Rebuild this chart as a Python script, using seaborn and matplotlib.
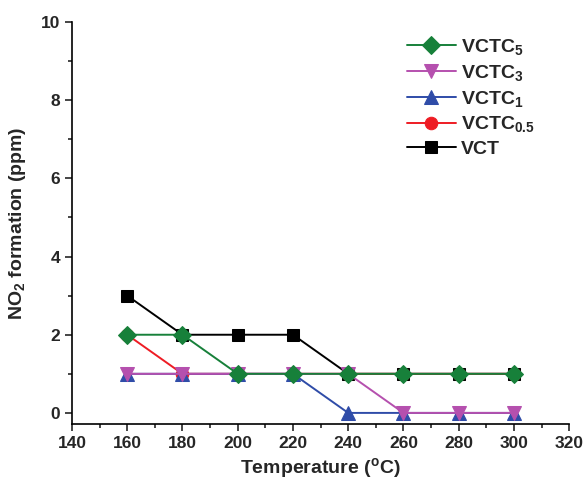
import matplotlib
matplotlib.use("Agg")
import matplotlib.pyplot as plt
import seaborn as sns
import pandas as pd
from matplotlib.ticker import MultipleLocator

temperature = [160, 180, 200, 220, 240, 260, 280, 300]
vct = [3, 2, 2, 2, 1, 1, 1, 1]
vctc05 = [2, 1, 1, 1, 1, 1, 1, 1]
vctc1 = [1, 1, 1, 1, 0, 0, 0, 0]
vctc3 = [1, 1, 1, 1, 1, 0, 0, 0]
vctc5 = [2, 2, 1, 1, 1, 1, 1, 1]

series_names = ["VCT", "VCTC$_{0.5}$", "VCTC$_{1}$", "VCTC$_{3}$", "VCTC$_{5}$"]
series_values = [vct, vctc05, vctc1, vctc3, vctc5]
colors = ["#000000", "#ee1c24", "#2f4ca8", "#b550ae", "#17803a"]
markers = ["s", "o", "^", "v", "D"]
msizes = [8.5, 9, 10, 10, 9.5]

sns.set_style("ticks")
plt.rcParams["font.family"] = ["Liberation Sans", "DejaVu Sans"]
plt.rcParams["mathtext.fontset"] = "custom"
plt.rcParams["mathtext.rm"] = "Liberation Sans:bold"
plt.rcParams["mathtext.bf"] = "Liberation Sans:bold"
plt.rcParams["mathtext.it"] = "Liberation Sans:bold"
plt.rcParams["mathtext.default"] = "bf"

fig = plt.figure(figsize=(5.85, 4.9), dpi=100)
ax = fig.add_axes([0.123, 0.135, 0.850, 0.820])

for name, vals, c, m, ms in zip(series_names, series_values, colors, markers, msizes):
    df = pd.DataFrame({"T": temperature, "v": vals})
    sns.lineplot(data=df, x="T", y="v", ax=ax, color=c, marker=m, markersize=ms,
                 markeredgecolor=c, linewidth=1.4, label=name)

ax.set_xlim(140, 320)
ax.set_ylim(-0.28, 10)
ax.xaxis.set_major_locator(MultipleLocator(20))
ax.xaxis.set_minor_locator(MultipleLocator(10))
ax.yaxis.set_major_locator(MultipleLocator(2))
ax.yaxis.set_minor_locator(MultipleLocator(1))
ax.tick_params(axis="both", which="major", direction="out", length=5, width=1.2,
               labelsize=12.5)
ax.tick_params(axis="both", which="minor", direction="out", length=3, width=1.2)
for lab in ax.get_xticklabels() + ax.get_yticklabels():
    lab.set_fontweight("bold")
for s in ["left", "bottom"]:
    ax.spines[s].set_linewidth(1.2)
    ax.spines[s].set_color("black")
sns.despine(ax=ax)

ax.set_xlabel("Temperature ($^{o}$C)", fontsize=14, fontweight="bold", labelpad=4)
ax.set_ylabel("NO$_{2}$ formation (ppm)", fontsize=14, fontweight="bold", labelpad=9)

handles, labels = ax.get_legend_handles_labels()
leg = ax.legend(handles[::-1], labels[::-1], loc="upper left",
                bbox_to_anchor=(0.674, 0.963), frameon=False, handlelength=2.5,
                labelspacing=0.3, handletextpad=0.25, borderpad=0,
                borderaxespad=0,
                prop={"weight": "bold", "size": 14})

fig.savefig("out.png", dpi=100)
